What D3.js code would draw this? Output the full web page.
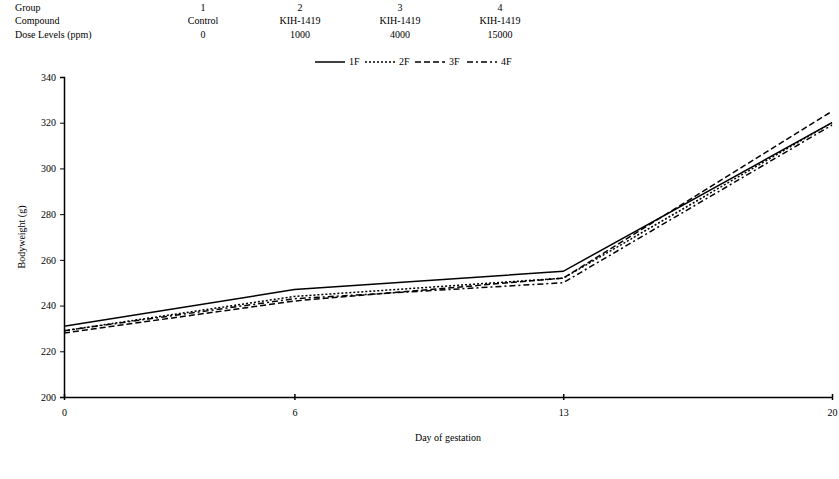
<!DOCTYPE html>
<html>
<head>
<meta charset="utf-8">
<script src="https://cdn.jsdelivr.net/npm/d3@7"></script>
<style>
body { margin: 0; background: #fff; }
text { font-family: "Liberation Serif", "Times New Roman", serif; fill: #000; }
</style>
</head>
<body>
<script>
var width = 839;
var height = 479;

// header table
var headerRows = ["Group", "Compound", "Dose Levels (ppm)"];
var groups = ["1", "2", "3", "4"];
var compounds = ["Control", "KIH-1419", "KIH-1419", "KIH-1419"];
var doses = ["0", "1000", "4000", "15000"];

// data
var days = [0, 6, 13, 20];
var seriesNames = ["1F", "2F", "3F", "4F"];
var values1F = [231, 247, 255, 320];
var values2F = [229, 244, 252, 320];
var values3F = [228, 242, 252, 325];
var values4F = [229, 243, 250, 319];
var yTicks = [200, 220, 240, 260, 280, 300, 320, 340];
var dashes = ["none", "2,2", "6,3", "6,3,2,3"];

var svg = d3.select("body").append("svg")
    .attr("width", width)
    .attr("height", height);

var margin = {left: 64, right: 7, top: 77, bottom: 82};

var x = d3.scaleLinear().domain([0, 20]).range([margin.left, width - margin.right]);
var y = d3.scaleLinear().domain([200, 340]).range([height - margin.bottom, margin.top]);

// header
var headerX = [203, 300, 400, 500];
var headerY = [11, 24, 38];
var cols = [groups, compounds, doses];
headerRows.forEach(function(r, i) {
    svg.append("text").attr("x", 15).attr("y", headerY[i])
        .style("font-size", "10px").text(r);
    cols[i].forEach(function(v, j) {
        svg.append("text").attr("x", headerX[j]).attr("y", headerY[i])
            .attr("text-anchor", "middle").style("font-size", "10px").text(v);
    });
});

// legend
var legendX = [315, 365, 415, 467];
var legend = svg.append("g");
seriesNames.forEach(function(s, i) {
    legend.append("line")
        .attr("x1", legendX[i]).attr("x2", legendX[i] + 30)
        .attr("y1", 62).attr("y2", 62)
        .attr("stroke", "#000").attr("stroke-width", 1.5)
        .attr("stroke-dasharray", dashes[i]);
    legend.append("text").attr("x", legendX[i] + 34).attr("y", 65)
        .style("font-size", "10px").text(s);
});

// axes
var yAxis = d3.axisLeft(y).tickValues(yTicks).tickSize(4).tickFormat(d3.format("d"));
var gy = svg.append("g").attr("transform", "translate(" + margin.left + ",0)").call(yAxis);
gy.select(".domain").attr("stroke-width", 1.5);
gy.selectAll("text").style("font-size", "10px").attr("x", -8);

var xAxis = d3.axisBottom(x).tickValues(days).tickSize(0).tickFormat(d3.format("d"));
var gx = svg.append("g").attr("transform", "translate(0," + y(200) + ")").call(xAxis);
gx.select(".domain").attr("stroke-width", 1.5);
gx.selectAll("text").style("font-size", "10px").attr("dy", "1.6em");
gx.selectAll(".tick").append("line")
    .attr("y1", -3).attr("y2", 3).attr("stroke", "#000").attr("stroke-width", 1.5);

// axis titles
svg.append("text")
    .attr("x", (margin.left + width - margin.right) / 2).attr("y", 441)
    .attr("text-anchor", "middle").style("font-size", "10px")
    .text("Day of gestation");

svg.append("text")
    .attr("transform", "translate(25," + ((y(200) + y(340)) / 2) + ") rotate(-90)")
    .attr("text-anchor", "middle").style("font-size", "10px")
    .text("Bodyweight (g)");

// lines
var allSeries = [values1F, values2F, values3F, values4F];
var line = d3.line()
    .x(function(d, i) { return x(days[i]); })
    .y(function(d) { return y(d); });

svg.selectAll(".series")
    .data(allSeries)
    .enter()
    .append("path")
    .attr("class", "series")
    .attr("d", line)
    .attr("fill", "none")
    .attr("stroke", "#000")
    .attr("stroke-width", 1.5)
    .attr("stroke-dasharray", function(d, i) { return dashes[i]; });
</script>
</body>
</html>
